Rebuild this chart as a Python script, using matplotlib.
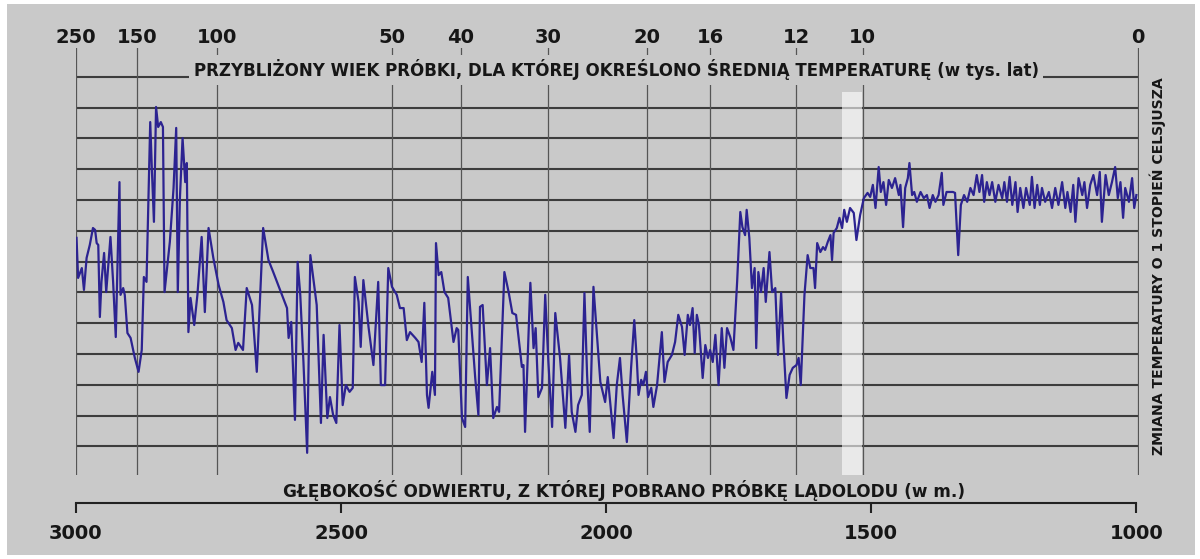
import matplotlib
matplotlib.use("Agg")
import matplotlib.pyplot as plt
from matplotlib.patches import Rectangle

# ice core record: depth (m) and temperature change (deg C, 0 = present)
depth = [
    2999, 2996, 2989, 2985, 2980, 2974, 2968, 2964, 2961, 2958,
    2955, 2952, 2947, 2943, 2935, 2930, 2925, 2918, 2916, 2911,
    2908, 2903, 2897, 2889, 2882, 2876, 2872, 2867, 2860, 2857,
    2853, 2849, 2845, 2840, 2836, 2833, 2823, 2816, 2811, 2808,
    2804, 2799, 2794, 2791, 2788, 2784, 2777, 2771, 2763, 2757,
    2750, 2741, 2731, 2722, 2716, 2706, 2699, 2694, 2685, 2678,
    2668, 2659, 2647, 2637, 2628, 2615, 2602, 2599, 2594, 2587,
    2582, 2577, 2571, 2564, 2558, 2546, 2538, 2533, 2526, 2521,
    2515, 2509, 2503, 2497, 2491, 2484, 2478, 2474, 2467, 2463,
    2458, 2448, 2439, 2430, 2425, 2417, 2411, 2404, 2395, 2389,
    2382, 2376, 2370, 2360, 2354, 2348, 2343, 2338, 2335, 2328,
    2323, 2321, 2316, 2311, 2305, 2298, 2288, 2282, 2279, 2272,
    2266, 2261, 2253, 2247, 2241, 2238, 2233, 2225, 2219, 2213,
    2206, 2202, 2192, 2184, 2177, 2170, 2164, 2159, 2156, 2153,
    2143, 2137, 2133, 2128, 2121, 2115, 2109, 2102, 2096, 2087,
    2077, 2070, 2065, 2058, 2053, 2046, 2041, 2036, 2031, 2024,
    2017, 2011, 2002, 1997, 1992, 1986, 1980, 1974, 1969, 1961,
    1953, 1947, 1942, 1939, 1934, 1930, 1925, 1921, 1915, 1911,
    1904, 1895, 1890, 1884, 1876, 1870, 1864, 1857, 1852, 1846,
    1842, 1837, 1833, 1829, 1825, 1818, 1813, 1808, 1804, 1799,
    1794, 1788, 1782, 1777, 1772, 1766, 1760, 1753, 1747, 1743,
    1738, 1735, 1730, 1725, 1720, 1717, 1713, 1708, 1703, 1699,
    1692, 1687, 1681, 1676, 1670, 1666, 1660,
    1654, 1648, 1641, 1637,
    1633, 1626, 1620, 1615, 1609, 1606, 1602, 1596, 1591, 1587,
    1582, 1577, 1574, 1571, 1565, 1560, 1555, 1551, 1546, 1540,
    1533, 1528, 1521, 1514, 1507, 1502, 1497, 1492, 1486, 1482,
    1477, 1472, 1467, 1461, 1455, 1448, 1445, 1440, 1436, 1431,
    1428, 1423, 1419, 1414, 1407, 1401, 1395, 1390, 1384, 1379,
    1373, 1367, 1364, 1358, 1352, 1346, 1342, 1336, 1331, 1325,
    1319, 1313, 1307, 1301, 1296, 1291, 1287, 1282, 1277, 1272,
    1266, 1260, 1253, 1249, 1244, 1239, 1234, 1228, 1224, 1219,
    1213, 1208, 1201, 1197, 1192, 1187, 1182, 1178, 1172, 1165,
    1159, 1153, 1147, 1140, 1134, 1130, 1124, 1119, 1115, 1109,
    1102, 1098, 1093, 1087, 1081, 1074, 1069, 1065, 1058, 1052,
    1046, 1040, 1035, 1030, 1025, 1021, 1014, 1008, 1004, 1000,
]
temp = [
    -1.23, -2.53, -2.21, -2.92, -1.88, -1.46, -0.91, -0.97, -1.40, -1.46,
    -3.80, -2.66, -1.72, -2.99, -1.20, -2.66, -4.45, 0.58, -3.08, -2.86,
    -3.08, -4.32, -4.48, -5.13, -5.58, -4.87, -2.50, -2.66, 2.53, 1.04,
    -0.71, 3.02, 2.37, 2.53, 2.37, -2.99, -1.36, 0.39, 2.34, -2.99,
    0.06, 2.01, 0.58, 1.20, -4.29, -3.18, -4.06, -3.08, -1.20, -3.64,
    -0.91, -1.88, -2.76, -3.31, -3.90, -4.16, -4.87, -4.64, -4.87, -2.86,
    -3.41, -5.58, -0.91, -1.95, -2.34, -2.92, -3.51, -4.48, -3.96, -7.14,
    -2.01, -3.08, -5.26, -8.21, -1.79, -3.41, -7.24, -4.38, -7.08, -6.40,
    -6.98, -7.24, -4.06, -6.66, -6.01, -6.23, -6.10, -2.50, -3.31, -4.77,
    -2.60, -4.16, -5.36, -2.66, -6.01, -6.01, -2.21, -2.82, -3.08, -3.51,
    -3.51, -4.55, -4.29, -4.48, -4.61, -5.26, -3.34, -6.33, -6.75, -5.58,
    -6.33, -1.40, -2.44, -2.34, -2.99, -3.18, -4.61, -4.16, -4.22, -7.08,
    -7.37, -2.50, -4.38, -5.78, -6.98, -3.47, -3.41, -6.01, -4.81, -7.08,
    -6.72, -6.88, -2.34, -2.99, -3.67, -3.73, -4.64, -5.42, -5.36, -7.53,
    -2.69, -4.81, -4.16, -6.40, -6.10, -3.08, -5.26, -7.37, -3.67, -5.13,
    -7.40, -5.03, -6.88, -7.53, -6.66, -6.33, -3.02, -5.68, -7.53, -2.82,
    -4.48, -5.91, -6.56, -5.75, -6.66, -7.73, -6.01, -5.13, -6.33, -7.86,
    -5.45, -3.90, -5.26, -6.33, -5.84, -6.01, -5.58, -6.40, -6.10, -6.72,
    -6.01, -4.29, -5.91, -5.26, -5.03, -4.61, -3.73, -4.12, -5.03, -3.73,
    -4.06, -3.51, -4.97, -3.73, -4.06, -5.78, -4.71, -5.13, -4.87, -5.26,
    -4.38, -6.01, -4.16, -5.45, -4.16, -4.45, -4.87, -2.66, -0.39, -0.88,
    -1.14, -0.32, -1.23, -2.86, -2.21, -4.81, -2.34, -2.99, -2.21, -3.31,
    -1.69, -2.99, -2.86, -5.03, -3.02, -4.55, -6.43,
    -5.68, -5.45, -5.36, -5.13,
    -6.01, -3.08, -1.79, -2.21, -2.21, -2.86, -1.40, -1.69, -1.53, -1.62,
    -1.36, -1.14, -1.95, -1.07, -0.91, -0.58, -0.91, -0.32, -0.71, -0.26,
    -0.42, -1.30, -0.49, 0.06, 0.23, 0.10, 0.49, -0.26, 1.07, 0.26,
    0.58, -0.16, 0.65, 0.39, 0.71, 0.16, 0.49, -0.88, 0.39, 0.71,
    1.20, 0.16, 0.26, -0.06, 0.26, 0.06, 0.16, -0.26, 0.16, -0.06,
    0.16, 0.88, -0.16, 0.26, 0.26, 0.26, 0.23, -1.79, -0.16, 0.16,
    -0.06, 0.39, 0.16, 0.81, 0.26, 0.81, -0.06, 0.58, 0.16, 0.58,
    -0.06, 0.49, 0.06, 0.58, -0.06, 0.75, -0.16, 0.58, -0.39, 0.39,
    -0.26, 0.39, -0.16, 0.75, -0.26, 0.49, -0.16, 0.39, -0.06, 0.26,
    -0.26, 0.39, -0.16, 0.58, -0.26, 0.26, -0.39, 0.49, -0.71, 0.71,
    0.16, 0.58, -0.26, 0.49, 0.81, 0.16, 0.91, -0.71, 0.81, 0.16,
    0.58, 1.07, 0.06, 0.58, -0.58, 0.39, -0.06, 0.71, -0.26, 0.16,
]

# approximate sample age (thousand years) and the depth where it sits
age_labels = ["250", "150", "100", "50", "40", "30", "20", "16", "12", "10", "0"]
age_depth = [3000, 2885, 2734, 2404, 2274, 2110, 1923, 1804, 1642, 1516, 997]
depth_ticks = [3000, 2500, 2000, 1500, 1000]
grid_levels = list(range(-8, 5))
band = (1517, 1555)

top_title = "PRZYBLIŻONY WIEK PRÓBKI, DLA KTÓREJ OKREŚLONO ŚREDNIĄ TEMPERATURĘ (w tys. lat)"
bottom_title = "GŁĘBOKOŚĆ ODWIERTU, Z KTÓREJ POBRANO PRÓBKĘ LĄDOLODU (w m.)"
right_title = "ZMIANA TEMPERATURY O 1 STOPIEŃ CELSJUSZA"

BG = "#c9c9c9"
INK = "#161616"
W, H = 1200, 559

fig = plt.figure(figsize=(12, 5.59), dpi=100)
fig.patch.set_facecolor("white")
fig.add_artist(Rectangle((7 / W, 1 - 555 / H), 1188 / W, 551 / H,
                         transform=fig.transFigure, facecolor=BG,
                         edgecolor="none", zorder=-10))

ax = fig.add_axes([76 / W, 1 - 475 / H, 1063 / W, 427 / H])
ax.set_facecolor("none")
ax.set_xlim(3000, 995)
ax.set_ylim(-8.93, 4.935)

for lv in grid_levels:
    ax.axhline(lv, color="#3c3c3c", lw=1.5, zorder=1)
for d in age_depth:
    ax.axvline(d, color="#555555", lw=0.9, zorder=1)

ax.axvspan(band[0], band[1], ymin=0, ymax=(475 - 92) / 427,
           facecolor="white", alpha=0.6, lw=0, zorder=2)

ax.plot(depth, temp, color="#2c2391", lw=1.6, zorder=3)

# bottom depth axis
for side in ["left", "right", "top"]:
    ax.spines[side].set_visible(False)
ax.spines["bottom"].set_position(("outward", 20))
ax.spines["bottom"].set_bounds(3000, 1000)
ax.spines["bottom"].set_linewidth(1.5)
ax.spines["bottom"].set_color("#222222")
ax.set_xticks(depth_ticks)
ax.set_xticklabels([str(v) for v in depth_ticks], fontsize=14,
                   fontweight="bold", color=INK)
ax.tick_params(axis="x", direction="out", length=7, width=1.5,
               color="#222222", pad=8)
ax.set_yticks([])

# top age axis
ax2 = ax.twiny()
ax2.set_xlim(ax.get_xlim())
ax2.set_xticks(age_depth)
ax2.set_xticklabels(age_labels, fontsize=14, fontweight="bold", color=INK)
ax2.tick_params(axis="x", length=0, pad=1)
for s in ax2.spines.values():
    s.set_visible(False)

ax.text(0.508, 0.9485, top_title, transform=ax.transAxes, ha="center",
        va="center", fontsize=12, fontweight="bold", color=INK, zorder=5,
        bbox=dict(facecolor=BG, edgecolor="none", pad=3))
ax.text(0.516, -0.036, bottom_title, transform=ax.transAxes, ha="center",
        va="center", fontsize=12.2, fontweight="bold", color=INK)
ax.text(1.018, 0.488, right_title, transform=ax.transAxes, ha="center",
        va="center", rotation=90, fontsize=10.1, fontweight="bold", color=INK)

fig.savefig("out.png", dpi=100, facecolor=fig.get_facecolor())
